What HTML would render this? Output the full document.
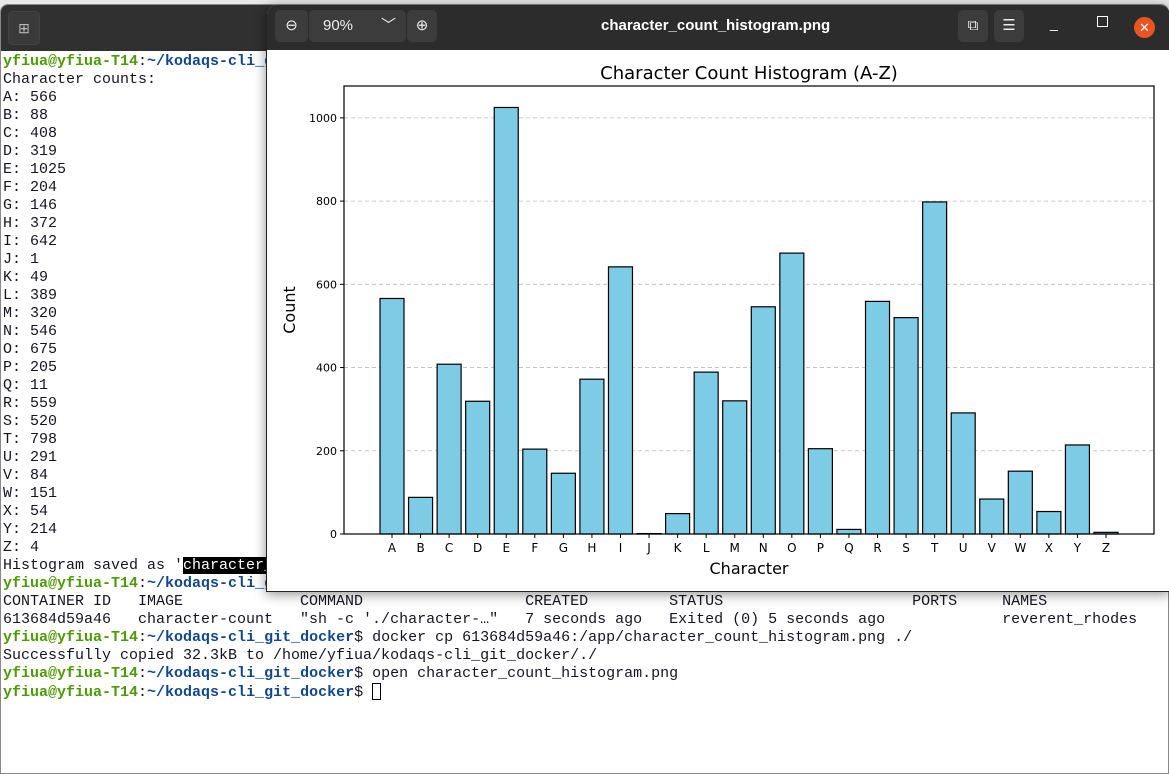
<!DOCTYPE html>
<html><head><meta charset="utf-8"><style>
body{margin:0;width:1169px;height:774px;overflow:hidden;background:#e8e8e8;position:relative;font-family:"Liberation Sans",sans-serif}
#term{position:absolute;left:0;top:4px;width:1167px;height:768px;background:#fff;border:1px solid #888;border-radius:8px 8px 0 0;overflow:hidden}
#termhead{position:absolute;left:0;top:0;width:100%;height:46px;background:#303030}
#newtab{position:absolute;left:7px;top:6px;width:30px;height:32px;border-radius:5px;background:#3a3a3a;border:1px solid #444;color:#bbb;font-size:14px;text-align:center;line-height:32px}
.ln{position:absolute;left:2px;font-family:"Liberation Mono",monospace;font-size:15px;line-height:18px;white-space:pre;color:#171421}
.g{color:#4e9a06;font-weight:bold}.b{color:#12488b;font-weight:bold}
#viewer{position:absolute;left:266px;top:5px;width:903px;height:586px;background:#fff;border-radius:10px 10px 0 0;box-shadow:0 2px 12px rgba(0,0,0,.45);overflow:hidden;border-left:1px solid #222;border-bottom:1px solid #222}
#vhead{position:absolute;left:0;top:0;width:100%;height:45px;background:#2c2c2c;color:#fff}
.btn{position:absolute;top:5px;height:32px;background:#3c3c3c;border-radius:5px;color:#eee;font-size:15px;text-align:center;line-height:32px}
</style></head><body>
<div id="term">
 <div id="termhead"><div id="newtab">⊞</div></div>
 <div class="ln" style="top:48px"><span class="g">yfiua@yfiua-T14</span>:<span class="b">~/kodaqs-cli_git_docker</span>$</div>
 <div class="ln" style="top:66px">Character counts:
A: 566
B: 88
C: 408
D: 319
E: 1025
F: 204
G: 146
H: 372
I: 642
J: 1
K: 49
L: 389
M: 320
N: 546
O: 675
P: 205
Q: 11
R: 559
S: 520
T: 798
U: 291
V: 84
W: 151
X: 54
Y: 214
Z: 4
Histogram saved as '<span style="background:#000;color:#fff">character_count_histogram.png</span>'</div>
 <div class="ln" style="top:570px"><span class="g">yfiua@yfiua-T14</span>:<span class="b">~/kodaqs-cli_git_docker</span>$ docker ps -a
CONTAINER ID   IMAGE             COMMAND                  CREATED         STATUS                     PORTS     NAMES
613684d59a46   character-count   "sh -c './character-…"   7 seconds ago   Exited (0) 5 seconds ago             reverent_rhodes
<span class="g">yfiua@yfiua-T14</span>:<span class="b">~/kodaqs-cli_git_docker</span>$ docker cp 613684d59a46:/app/character_count_histogram.png ./
Successfully copied 32.3kB to /home/yfiua/kodaqs-cli_git_docker/./
<span class="g">yfiua@yfiua-T14</span>:<span class="b">~/kodaqs-cli_git_docker</span>$ open character_count_histogram.png
<span class="g">yfiua@yfiua-T14</span>:<span class="b">~/kodaqs-cli_git_docker</span>$ <span style="display:inline-block;width:9px;height:17px;border:1px solid #000;vertical-align:-4px;box-sizing:border-box"></span></div>
</div>
<div id="viewer">
 <div id="vhead">
  <div class="btn" style="left:8px;width:33px">⊖</div>
  <div class="btn" style="left:42px;width:97px;text-align:left;padding-left:14px;box-sizing:border-box">90%<span style="position:absolute;right:10px">﹀</span></div>
  <div class="btn" style="left:140px;width:30px">⊕</div>
  <div style="position:absolute;left:334px;top:12px;font-size:15px;font-weight:bold">character_count_histogram.png</div>
  <div class="btn" style="left:691px;width:30px">⧉</div>
  <div class="btn" style="left:727px;width:30px">☰</div>
  <div style="position:absolute;left:783px;top:10px;font-size:14px">_</div>
  <div style="position:absolute;left:830px;top:11px;width:9px;height:9px;border:1.5px solid #fff"></div>
  <div style="position:absolute;left:867px;top:12px;width:21px;height:21px;border-radius:50%;background:#e95420;font-size:13px;text-align:center;line-height:21px">✕</div>
 </div>
 <svg id="chart" width="903" height="541" style="position:absolute;left:0;top:45px">
  <g id="root" transform="translate(-266,-50)" font-family="DejaVu Sans, Liberation Sans, sans-serif"></g>
 </svg>
</div>
<script>
const categories=["A","B","C","D","E","F","G","H","I","J","K","L","M","N","O","P","Q","R","S","T","U","V","W","X","Y","Z"];
const counts=[566,88,408,319,1025,204,146,372,642,1,49,389,320,546,675,205,11,559,520,798,291,84,151,54,214,4];
const yTicks=[0,200,400,600,800,1000];
const NS="http://www.w3.org/2000/svg";
const root=document.getElementById('root');
const L=343,R=1153,T=86,B=534;
const yMax=1076.6;
function y(v){return B-(v/yMax)*(B-T);}
const step=(R-L)/(categories.length+0.6);
function x(i){return L+step*(0.8+i)+step/2-step*0.3+ (391-(L+step*(0.8)+step/2-step*0.3));}
function mk(t,a,txt){const e=document.createElementNS(NS,t);for(const k in a)e.setAttribute(k,a[k]);if(txt!=null)e.textContent=txt;root.appendChild(e);return e;}
const bw=24, st=(1105-391)/25;
function xc(i){return 391+i*st;}
yTicks.forEach(v=>{
 const g=mk('line',{x1:L,x2:R,y1:y(v),y2:y(v),stroke:'#bbb','stroke-dasharray':'4,3','stroke-width':0.8});
 
 
 mk('line',{x1:L-4,x2:L,y1:y(v),y2:y(v),stroke:'#000'});
 const t=mk('text',{x:L-7,y:y(v)+4,'text-anchor':'end','font-size':11},String(v));
 
 
});
categories.forEach((c,i)=>{
 const r=mk('rect',{x:xc(i)-bw/2,y:y(counts[i]),width:bw,height:B-y(counts[i]),fill:'#7ecbe6',stroke:'#000','stroke-width':1.2});
 
 
 mk('line',{x1:xc(i),x2:xc(i),y1:B,y2:B+4,stroke:'#000'});
 const t=mk('text',{x:xc(i),y:B+18,'text-anchor':'middle','font-size':12},c);
 
 
});
const ax=mk('rect',{x:L,y:T,width:R-L,height:B-T,fill:'none',stroke:'#000','stroke-width':1.2});


const ti=mk('text',{x:(L+R)/2,y:79,'text-anchor':'middle','font-size':18},'Character Count Histogram (A-Z)');


const xl=mk('text',{x:(L+R)/2,y:574,'text-anchor':'middle','font-size':16},'Character');


const yl=mk('text',{x:0,y:0,'text-anchor':'middle','font-size':16,transform:'translate(294,310) rotate(-90)'},'Count');


</script>
</body></html>
